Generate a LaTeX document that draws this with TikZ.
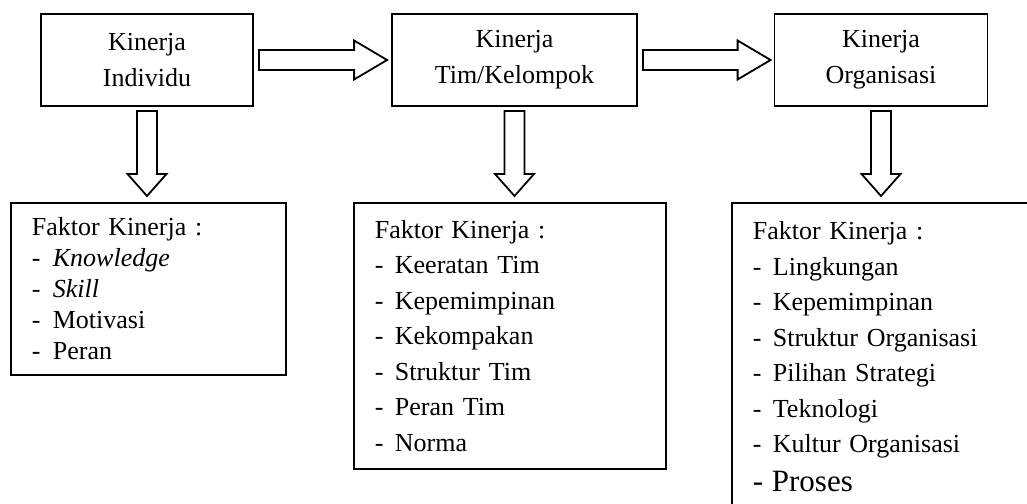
\documentclass[tikz,border=0pt]{standalone}
\usepackage{fontspec}
\setmainfont{Liberation Serif}
\usetikzlibrary{calc,positioning}

\newcommand{\fkitem}[2][20pt]{\makebox[#1][l]{-}#2}

\begin{document}
\begin{tikzpicture}[x=1pt, y=-1pt, line width=1.8pt,
    topbox/.style={draw, align=center, minimum height=92, inner sep=0pt,
      font=\fontsize{26}{36}\selectfont},
    factorbox/.style={draw, align=left, anchor=north west, inner xsep=21pt,
      inner ysep=0pt, font=\fontsize{26}{35.5}\selectfont},
    blockline/.style={draw, fill=white, line join=miter}]
    \clip (0,0) rectangle (1027,503);
    \useasboundingbox (0,0) rectangle (1027,503);

    % level boxes
    \node[topbox, minimum width=212] (ind) at (147,60) {Kinerja\\Individu};
    \node[topbox, minimum width=245] (tim) at (514.5,60) {Kinerja\\Tim/Kelompok};
    \node[topbox, minimum width=213] (org) at (881,60) {Kinerja\\Organisasi};

    % factor boxes
    \node[factorbox, text width=233, minimum height=172,
      font=\fontsize{26}{31}\selectfont] (fkind) at (10,202)
      {Faktor Kinerja :\\ \fkitem[21pt]{\textit{Knowledge}}\\ \fkitem[21pt]{\textit{Skill}}\\
       \fkitem[21pt]{Motivasi}\\ \fkitem[21pt]{Peran}};
    \node[factorbox, text width=280, inner ysep=19pt] (fkorg) at (731,202)
      {Faktor Kinerja :\\ \fkitem{Lingkungan}\\ \fkitem{Kepemimpinan}\\
       \fkitem{Struktur Organisasi}\\ \fkitem{Pilihan Strategi}\\ \fkitem{Teknologi}\\
       \fkitem{Kultur Organisasi}\\[3pt]
       {\fontsize{31}{39}\selectfont\fkitem[19pt]{Proses}}\\ \mbox{}};
    \node[factorbox, text width=270, minimum height=266] (fktim) at (353,202)
      {Faktor Kinerja :\\ \fkitem{Keeratan Tim}\\ \fkitem{Kepemimpinan}\\
       \fkitem{Kekompakan}\\ \fkitem{Struktur Tim}\\ \fkitem{Peran Tim}\\ \fkitem{Norma}};

    % horizontal block arrows
    \draw[blockline] ($(ind.east)+(5,-10)$) -- ($(tim.west)+(-37,-10)$)
      -- ($(tim.west)+(-37,-19.5)$) -- ($(tim.west)+(-4,0)$)
      -- ($(tim.west)+(-37,19.5)$) -- ($(tim.west)+(-37,10)$)
      -- ($(ind.east)+(5,10)$) -- cycle;
    \draw[blockline] ($(tim.east)+(5,-10)$) -- ($(org.west)+(-36,-10)$)
      -- ($(org.west)+(-36,-19.5)$) -- ($(org.west)+(-3,0)$)
      -- ($(org.west)+(-36,19.5)$) -- ($(org.west)+(-36,10)$)
      -- ($(tim.east)+(5,10)$) -- cycle;

    % vertical block arrows
    \draw[blockline] ($(ind.south)+(-10,4)$) -- ($(ind.south |- fkind.north)+(-10,-28)$)
      -- ($(ind.south |- fkind.north)+(-19.5,-28)$) -- ($(ind.south |- fkind.north)+(0,-6)$)
      -- ($(ind.south |- fkind.north)+(19.5,-28)$) -- ($(ind.south |- fkind.north)+(10,-28)$)
      -- ($(ind.south)+(10,4)$) -- cycle;
    \draw[blockline] ($(tim.south)+(-10,4)$) -- ($(tim.south |- fktim.north)+(-10,-28)$)
      -- ($(tim.south |- fktim.north)+(-19.5,-28)$) -- ($(tim.south |- fktim.north)+(0,-6)$)
      -- ($(tim.south |- fktim.north)+(19.5,-28)$) -- ($(tim.south |- fktim.north)+(10,-28)$)
      -- ($(tim.south)+(10,4)$) -- cycle;
    \draw[blockline] ($(org.south)+(-10,4)$) -- ($(org.south |- fkorg.north)+(-10,-28)$)
      -- ($(org.south |- fkorg.north)+(-19.5,-28)$) -- ($(org.south |- fkorg.north)+(0,-6)$)
      -- ($(org.south |- fkorg.north)+(19.5,-28)$) -- ($(org.south |- fkorg.north)+(10,-28)$)
      -- ($(org.south)+(10,4)$) -- cycle;
\end{tikzpicture}
\end{document}
